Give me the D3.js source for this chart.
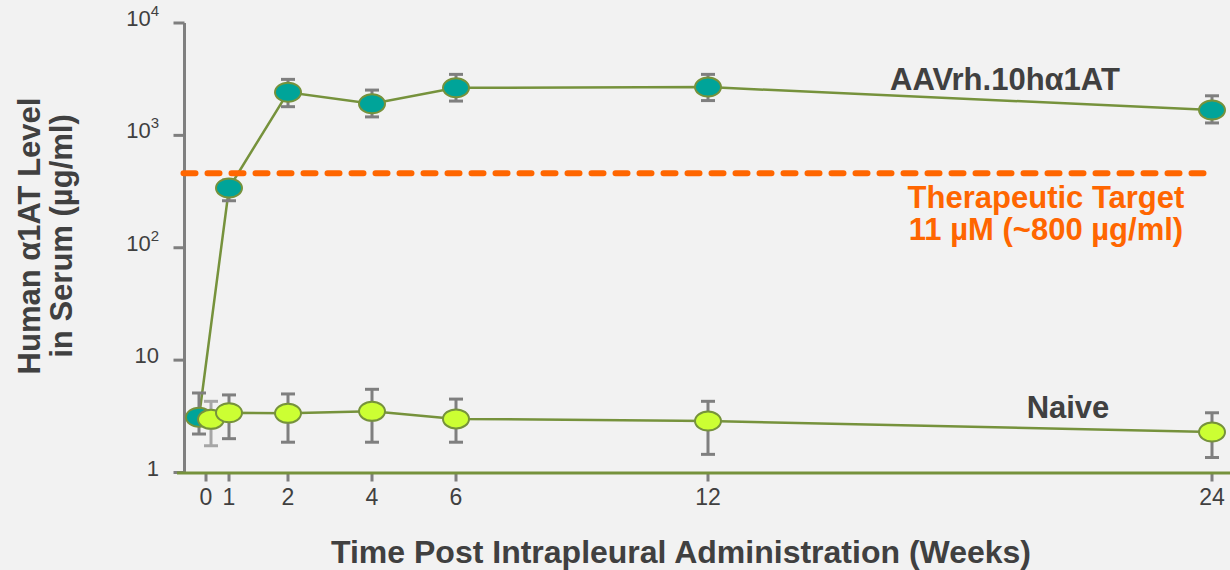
<!DOCTYPE html>
<html lang="en">

<head>
    <meta charset="utf-8">
    <script src="https://d3js.org/d3.v7.min.js"></script>
    <style>
        body {
            margin: 0;
            background-color: #f2f2f2;
        }

        svg text {
            font-family: "Liberation Sans", Arial, sans-serif;
        }
    </style>
</head>

<body>
    <script>
        // data (µg/ml, log scale)
        const weeks = [0, 1, 2, 4, 6, 12, 24];
        const weekLabels = ["0", "1", "2", "4", "6", "12", "24"];

        const aavMean = [3.1, 340, 2420, 1910, 2650, 2690, 1680];
        const aavHigh = [5.1, 400, 3150, 2530, 3490, 3490, 2250];
        const aavLow = [2.2, 262, 1800, 1460, 2020, 2040, 1290];

        const naiveMean = [2.97, 3.4, 3.36, 3.5, 3.0, 2.87, 2.29];
        const naiveHigh = [4.3, 4.9, 5.0, 5.5, 4.5, 4.3, 3.4];
        const naiveLow = [1.73, 2.0, 1.86, 1.86, 1.86, 1.45, 1.36];

        const targetLevel = 460;
        const yTicks = [1, 10, 100, 1000, 10000];
        const yTickLabels = [["1", ""], ["10", ""], ["10", "2"], ["10", "3"], ["10", "4"]];

        const width = 1230,
            height = 570;

        const svg = d3.select("body")
            .append("svg")
            .attr("width", width)
            .attr("height", height);

        // the slide squeezes week 0-1, so the scale is piecewise
        const x = d3.scaleLinear()
            .domain([0, 1, 2, 24])
            .range([206, 229, 288, 1212]);

        const y = d3.scaleLog()
            .domain([1, 10000])
            .range([472.5, 23]);

        const axisX = 184.5;
        const grey = "#7f7f7f";
        const olive = "#76923c";
        const textCol = "#404040";

        // y axis
        svg.append("line")
            .attr("x1", axisX).attr("x2", axisX)
            .attr("y1", y(10000)).attr("y2", y(1))
            .attr("stroke", grey).attr("stroke-width", 3);

        const yTick = svg.selectAll(".ytick")
            .data(yTicks)
            .enter()
            .append("g")
            .attr("class", "ytick")
            .attr("transform", d => "translate(0," + y(d) + ")");

        yTick.append("line")
            .attr("x1", axisX - 11).attr("x2", axisX)
            .attr("stroke", grey).attr("stroke-width", 3);

        const yLab = yTick.append("text")
            .attr("x", 159)
            .attr("y", 3)
            .attr("text-anchor", "end")
            .attr("fill", textCol)
            .style("font-size", "22px");
        yLab.append("tspan").text((d, i) => yTickLabels[i][0]);
        yLab.append("tspan")
            .attr("dy", -10)
            .style("font-size", "15px")
            .text((d, i) => yTickLabels[i][1]);

        // x axis
        svg.selectAll(".xtick")
            .data(weeks)
            .enter()
            .append("line")
            .attr("class", "xtick")
            .attr("x1", d => x(d)).attr("x2", d => x(d))
            .attr("y1", y(1)).attr("y2", y(1) + 9)
            .attr("stroke", grey).attr("stroke-width", 3);

        svg.append("line")
            .attr("x1", 177).attr("x2", width)
            .attr("y1", y(1) + 0.5).attr("y2", y(1) + 0.5)
            .attr("stroke", olive).attr("stroke-width", 3);

        svg.selectAll(".xlab")
            .data(weeks)
            .enter()
            .append("text")
            .attr("class", "xlab")
            .attr("x", d => x(d))
            .attr("y", 505)
            .attr("text-anchor", "middle")
            .attr("fill", textCol)
            .style("font-size", "23px")
            .text((d, i) => weekLabels[i]);

        // axis titles
        svg.append("text")
            .attr("x", 681)
            .attr("y", 563)
            .attr("text-anchor", "middle")
            .attr("fill", textCol)
            .style("font-size", "32px")
            .style("font-weight", "bold")
            .text("Time Post Intrapleural Administration (Weeks)");

        svg.append("text")
            .attr("transform", "translate(40,236) rotate(-90)")
            .attr("text-anchor", "middle")
            .attr("fill", textCol)
            .style("font-size", "31px")
            .style("font-weight", "bold")
            .text("Human α1AT Level");

        svg.append("text")
            .attr("transform", "translate(72,236) rotate(-90)")
            .attr("text-anchor", "middle")
            .attr("fill", textCol)
            .style("font-size", "31px")
            .style("font-weight", "bold")
            .text("in Serum (µg/ml)");

        // one series: line, error bars, markers
        function drawSeries(mean, high, low, fill, dodge, firstErrCol) {
            const pts = weeks.map((w, i) => ({
                x: x(w) + (i === 0 ? dodge : 0),
                m: mean[i], hi: high[i], lo: low[i],
                col: i === 0 ? firstErrCol : grey
            }));

            const line = d3.line()
                .x(d => d.x)
                .y(d => y(d.m));

            const g = svg.append("g");

            g.append("path")
                .datum(pts)
                .attr("d", line)
                .attr("fill", "none")
                .attr("stroke", olive)
                .attr("stroke-width", 2.5);

            const err = g.selectAll(".err")
                .data(pts)
                .enter()
                .append("g")
                .attr("stroke", d => d.col)
                .attr("stroke-width", 3);

            err.append("line")
                .attr("x1", d => d.x).attr("x2", d => d.x)
                .attr("y1", d => y(d.hi)).attr("y2", d => y(d.lo));
            err.append("line")
                .attr("x1", d => d.x - 7).attr("x2", d => d.x + 7)
                .attr("y1", d => y(d.hi)).attr("y2", d => y(d.hi));
            err.append("line")
                .attr("x1", d => d.x - 7).attr("x2", d => d.x + 7)
                .attr("y1", d => y(d.lo)).attr("y2", d => y(d.lo));

            g.selectAll("ellipse")
                .data(pts)
                .enter()
                .append("ellipse")
                .attr("cx", d => d.x)
                .attr("cy", d => y(d.m))
                .attr("rx", 13)
                .attr("ry", 9.5)
                .attr("fill", fill)
                .attr("stroke", olive)
                .attr("stroke-width", 2);
        }

        drawSeries(aavMean, aavHigh, aavLow, "#00a499", -7, grey);
        drawSeries(naiveMean, naiveHigh, naiveLow, "#ccff33", 5, "#a6a6a6");

        // therapeutic target
        svg.append("line")
            .attr("x1", axisX - 1)
            .attr("x2", x(24) - 4)
            .attr("y1", y(targetLevel))
            .attr("y2", y(targetLevel))
            .attr("stroke", "#ff6600")
            .attr("stroke-width", 6)
            .attr("stroke-linecap", "round")
            .attr("stroke-dasharray", "12 12");

        // labels
        svg.append("text")
            .attr("x", 1005).attr("y", 90)
            .attr("text-anchor", "middle")
            .attr("fill", textCol)
            .style("font-size", "31px")
            .style("font-weight", "bold")
            .text("AAVrh.10hα1AT");

        svg.append("text")
            .attr("x", 1046).attr("y", 208)
            .attr("text-anchor", "middle")
            .attr("fill", "#ff6600")
            .style("font-size", "31px")
            .style("font-weight", "bold")
            .text("Therapeutic Target");

        svg.append("text")
            .attr("x", 1046).attr("y", 240)
            .attr("text-anchor", "middle")
            .attr("fill", "#ff6600")
            .style("font-size", "31px")
            .style("font-weight", "bold")
            .text("11 µM (~800 µg/ml)");

        svg.append("text")
            .attr("x", 1068).attr("y", 418)
            .attr("text-anchor", "middle")
            .attr("fill", textCol)
            .style("font-size", "31px")
            .style("font-weight", "bold")
            .text("Naive");
    </script>
</body>

</html>
